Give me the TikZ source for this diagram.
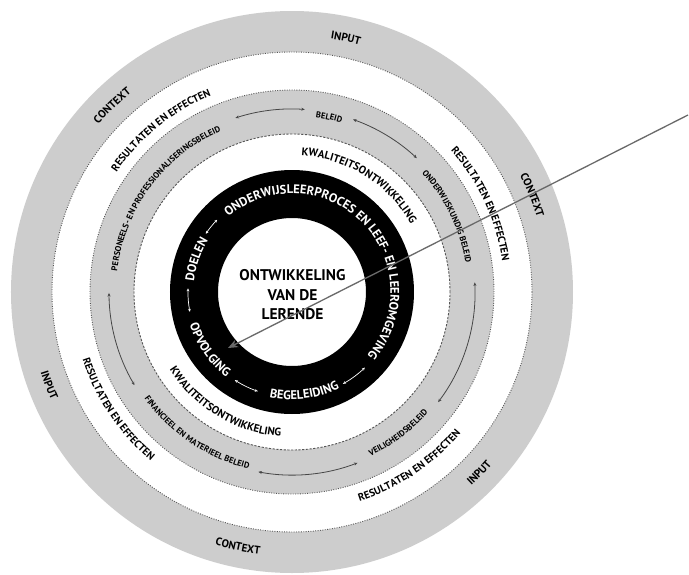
\documentclass[tikz,border=0pt]{standalone}
\usepackage{fontspec}
\setmainfont{PT Sans}
\usetikzlibrary{decorations.text,arrows.meta}
\definecolor{ringgray}{RGB}{205,205,205}
\definecolor{edgegray}{RGB}{85,85,85}
\definecolor{arrowgray}{RGB}{70,70,70}
\definecolor{pointergray}{RGB}{105,105,105}
\newcommand\fOuter{\fontsize{11}{13}\selectfont\bfseries}
\newcommand\fResult{\fontsize{10.5}{12}\selectfont\bfseries}
\newcommand\fPolicy{\fontsize{8.5}{10}\selectfont\bfseries}
\newcommand\fQuality{\fontsize{11}{13}\selectfont\bfseries}
\newcommand\fRing{\fontsize{12.5}{15}\selectfont\bfseries}
\newcommand\fCenter{\fontsize{15.5}{19.5}\selectfont\bfseries}
% #1 angle, #2 baseline radius, #3 half span, #4 font, #5 colour, #6 text
\newcommand\ringcw[6]{\path[decorate,decoration={text along path,text align=center,text color=#5,text={|#4|#6}}] (#1+#3:#2pt) arc[start angle=#1+#3,end angle=#1-#3,radius=#2pt];}
\newcommand\ringccw[6]{\path[decorate,decoration={text along path,text align=center,text color=#5,text={|#4|#6}}] (#1-#3:#2pt) arc[start angle=#1-#3,end angle=#1+#3,radius=#2pt];}
\tikzset{
  dotline/.style={draw=edgegray,line width=0.9pt,dash pattern=on 0.9pt off 1.5pt},
  dashline/.style={draw=edgegray,line width=0.9pt,dash pattern=on 2.2pt off 1.5pt},
  bandarrow/.style={draw=arrowgray,line width=0.8pt,{Stealth[length=3.5pt,width=3pt]}-{Stealth[length=3.5pt,width=3pt]}},
  ringarrow/.style={draw=white,line width=0.7pt,{Stealth[length=3pt,width=2.8pt]}-{Stealth[length=3pt,width=2.8pt]}},
  pointer/.style={draw=pointergray,line width=1.3pt,-{Stealth[length=10pt,width=8pt]}},
  centertext/.style={align=center,font=\fCenter,inner sep=0pt}
}
\begin{document}
\begin{tikzpicture}
\useasboundingbox[fill=white] (-292pt,-282pt) rectangle (397pt,292pt);
% rings
\fill[ringgray,even odd rule] (0,0) circle[radius=281pt] (0,0) circle[radius=240pt];
\fill[ringgray,even odd rule] (0,0) circle[radius=202pt] (0,0) circle[radius=158pt];
\fill[black,even odd rule] (0,0) circle[radius=122pt] (0,0) circle[radius=74pt];
\draw[dotline] (0,0) circle[radius=240pt];
\draw[dotline] (0,0) circle[radius=202pt];
\draw[dashline] (0,0) circle[radius=158pt];
% outer band
\ringcw{78}{256}{30}{\fOuter}{black}{INPUT}
\ringcw{22}{256}{30}{\fOuter}{black}{CONTEXT}
\ringccw{-44}{264}{30}{\fOuter}{black}{INPUT}
\ringccw{-102}{264}{30}{\fOuter}{black}{CONTEXT}
\ringccw{201}{264}{30}{\fOuter}{black}{INPUT}
\ringcw{134}{256}{30}{\fOuter}{black}{CONTEXT}
% white band
\ringcw{129}{212.5}{50}{\fResult}{black}{RESULTATEN EN EFFECTEN}
\ringcw{25}{212.5}{50}{\fResult}{black}{RESULTATEN EN EFFECTEN}
\ringccw{-56}{220}{50}{\fResult}{black}{RESULTATEN EN EFFECTEN}
\ringccw{214}{220}{50}{\fResult}{black}{RESULTATEN EN EFFECTEN}
% policy band
\ringcw{78}{176}{30}{\fPolicy}{black}{BELEID}
\ringcw{26}{176}{45}{\fPolicy}{black}{ONDERWIJSKUNDIG BELEID}
\ringccw{-53}{182}{40}{\fPolicy}{black}{VEILIGHEIDSBELEID}
\ringccw{236}{182}{45}{\fPolicy}{black}{FINANCIEEL EN MATERIEEL BELEID}
\ringcw{143.5}{176}{60}{\fPolicy}{black}{PERSONEELS- EN PROFESSIONALISERINGSBELEID}
% policy arrows
\coordinate (pa1) at (108:183pt); \coordinate (pb1) at (86:183pt);
\coordinate (pa2) at (70.5:183pt); \coordinate (pb2) at (47:183pt);
\coordinate (pa3) at (3:183pt); \coordinate (pb3) at (-37:183pt);
\coordinate (pa4) at (-69:183pt); \coordinate (pb4) at (-100.6:183pt);
\coordinate (pa5) at (210.6:183pt); \coordinate (pb5) at (180.3:183pt);
\draw[bandarrow] (pa1) arc[start angle=108,end angle=86,radius=183pt];
\draw[bandarrow] (pa2) arc[start angle=70.5,end angle=47,radius=183pt];
\draw[bandarrow] (pa3) arc[start angle=3,end angle=-37,radius=183pt];
\draw[bandarrow] (pa4) arc[start angle=-69,end angle=-100.6,radius=183pt];
\draw[bandarrow] (pa5) arc[start angle=210.6,end angle=180.3,radius=183pt];
% quality band
\ringcw{58}{137}{60}{\fQuality}{black}{KWALITEITSONTWIKKELING}
\ringccw{239}{145}{60}{\fQuality}{black}{KWALITEITSONTWIKKELING}
% black ring
\ringcw{45}{98.5}{100}{\fRing}{white}{ONDERWIJSLEERPROCES EN LEEF- EN LEEROMGEVING}
\ringcw{161}{98.5}{25}{\fRing}{white}{DOELEN}
\ringccw{215}{107.5}{30}{\fRing}{white}{OPVOLGING}
\ringccw{277}{107.5}{35}{\fRing}{white}{BEGELEIDING}
\coordinate (ra1) at (146:104pt); \coordinate (rb1) at (136:104pt);
\coordinate (ra2) at (178:104pt); \coordinate (rb2) at (191:104pt);
\coordinate (ra3) at (237:105pt); \coordinate (rb3) at (251:105pt);
\coordinate (ra4) at (299:105pt); \coordinate (rb4) at (314:105pt);
\draw[ringarrow] (ra1) arc[start angle=146,end angle=136,radius=104pt];
\draw[ringarrow] (ra2) arc[start angle=178,end angle=191,radius=104pt];
\draw[ringarrow] (ra3) arc[start angle=237,end angle=251,radius=105pt];
\draw[ringarrow] (ra4) arc[start angle=299,end angle=314,radius=105pt];
% centre
\node[centertext] (centre) at (0.5pt,-3pt) {ONTWIKKELING\\VAN DE\\LERENDE};
% pointer
\coordinate (pointerStart) at (396pt,177pt);
\coordinate (pointerEnd) at (-64pt,-56pt);
\draw[pointer] (pointerStart) -- (pointerEnd);
\end{tikzpicture}
\end{document}
